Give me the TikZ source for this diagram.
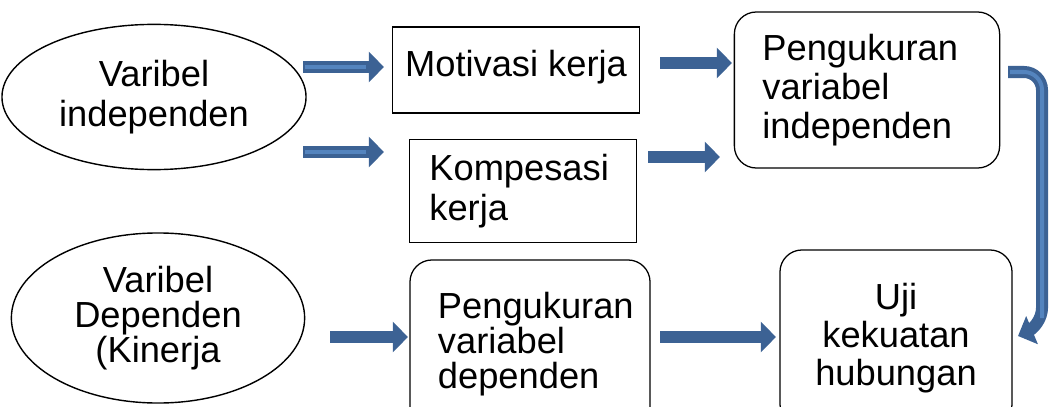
\documentclass[tikz,border=0pt]{standalone}
\usepackage{fontspec}
\setmainfont{Liberation Sans}
\usetikzlibrary{shapes.geometric,arrows.meta}
\definecolor{biru}{RGB}{60,98,148}
\definecolor{birumuda}{RGB}{84,132,190}
\tikzset{
  every node/.style={font=\fontsize{25.8}{28}\selectfont},
  elips/.style={draw,ellipse,line width=1pt,inner sep=0pt,align=center},
  kotak/.style={draw,line width=0.9pt,inner sep=0pt},
  kotakbulat/.style={kotak,rounded corners=0.55cm},
  panah/.style={draw=biru,line width=0.3cm,-{Triangle[length=0.38cm,width=0.74cm]}},
  garisisi/.style={draw=birumuda,line width=0.1cm,shorten >=0.45cm,shorten <=0.06cm}
}
\begin{document}
\begin{tikzpicture}[x=0.025cm,y=-0.025cm]
\useasboundingbox (0,0) rectangle (1051,407);

% variabel
\node[elips,minimum width=7.6cm,minimum height=3.63cm] (indep) at (154,97) {Varibel\\independen};
\node[elips,minimum width=7.33cm,minimum height=4.25cm,font=\fontsize{25.8}{25}\selectfont] (dep) at (158,318) {Varibel\\Dependen\\(Kinerja};

% kotak
\node[kotak,minimum width=6.18cm,minimum height=2.15cm] (motiv) at (516,70) {\raisebox{9pt}{Motivasi kerja}};
\node[kotak,minimum width=5.68cm,minimum height=2.58cm,text width=4.68cm,align=left,inner xsep=0.5cm] (komp) at (523,191) {Kompesasi\\kerja};
\node[kotakbulat,minimum width=6.63cm,minimum height=3.9cm,text width=5.23cm,align=left,inner xsep=0.7cm] (ukurin) at (867,90) {Pengukuran\\variabel\\independen};
\node[kotakbulat,minimum width=6cm,minimum height=4.2cm,text width=4.6cm,align=left,inner xsep=0.7cm,font=\fontsize{25.8}{25}\selectfont] (ukurdep) at (530,344) {\raisebox{14pt}{\parbox{4.6cm}{Pengukuran\\variabel\\dependen}}};
\node[kotakbulat,minimum width=5.8cm,minimum height=4.4cm,align=center,font=\fontsize{25.8}{27}\selectfont] (uji) at (896,338) {\raisebox{13pt}{\parbox{5cm}{\centering Uji\\kekuatan\\hubungan}}};

% panah
\coordinate (m1) at (303,67);  \coordinate (u1) at (384,67);
\coordinate (m2) at (303,152); \coordinate (u2) at (384,152);
\coordinate (m3) at (660,63);  \coordinate (u3) at (732,63);
\coordinate (m4) at (648,157); \coordinate (u4) at (720,157);
\coordinate (m5) at (330,337); \coordinate (u5) at (408,337);
\coordinate (m6) at (660,337); \coordinate (u6) at (776,337);
\coordinate (m7) at (1008,72); \coordinate (u7) at (1018,336);

\foreach \i in {1,...,6}
  \draw[panah] (m\i) -- (u\i);
\draw[garisisi] (m1) -- (u1);
\draw[garisisi] (m2) -- (u2);

\draw[panah,rounded corners=0.45cm] (m7) -- (1042,72) -- (1042,326) -- (u7);
\draw[draw=birumuda,line width=0.1cm,rounded corners=0.45cm] (1010,72) -- (1042,72) -- (1042,318);
\end{tikzpicture}
\end{document}
